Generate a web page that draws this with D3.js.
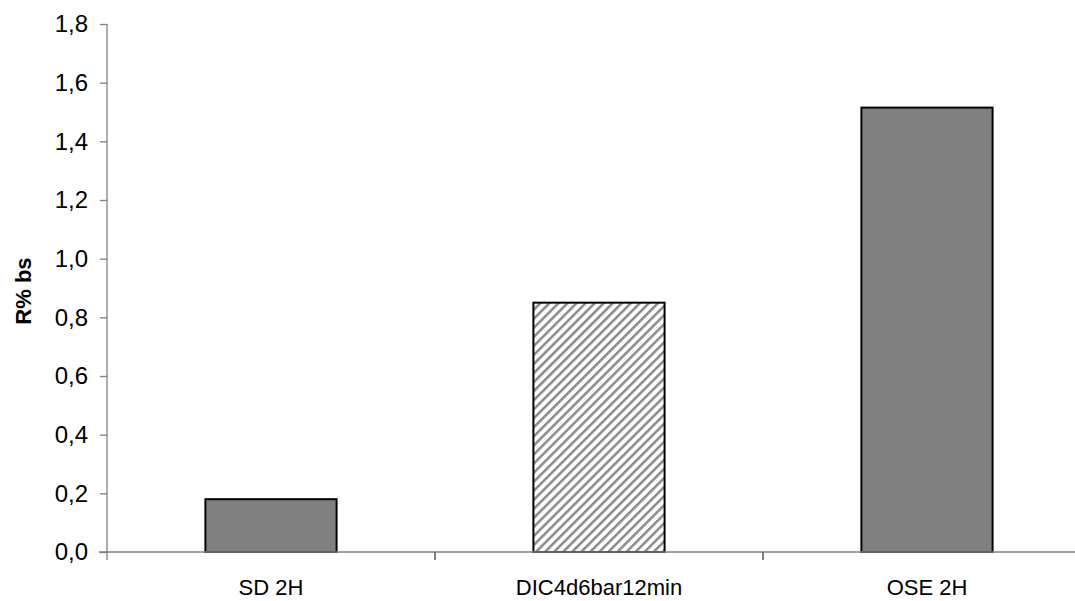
<!DOCTYPE html>
<html>
<head>
<meta charset="utf-8">
<script src="https://cdn.jsdelivr.net/npm/d3@7/dist/d3.min.js"></script>
<style>
  body { margin: 0; background: #fff; }
  svg { font-family: Arial, "Liberation Sans", sans-serif; }
</style>
</head>
<body>
<svg id="chart" width="1075" height="601"></svg>
<script>
const categories = ["SD 2H", "DIC4d6bar12min", "OSE 2H"];
const values = [0.18, 0.85, 1.515];
const hatched = [false, true, false];
const yTicks = [0, 0.2, 0.4, 0.6, 0.8, 1.0, 1.2, 1.4, 1.6, 1.8];
const yLabel = "R% bs";

const svg = d3.select("#chart");
const margin = { top: 24, left: 107, bottom: 49 };
const plotRight = 1091;
const height = +svg.attr("height") - margin.top - margin.bottom;

const x = d3.scaleBand()
    .domain(categories)
    .range([margin.left, plotRight])
    .paddingInner(0.6)
    .paddingOuter(0.3);

const y = d3.scaleLinear()
    .domain([0, 1.8])
    .range([margin.top + height, margin.top]);

const fmt = v => d3.format(".1f")(v).replace(".", ",");

// hatch pattern
const defs = svg.append("defs");
const pat = defs.append("pattern")
    .attr("id", "hatch")
    .attr("patternUnits", "userSpaceOnUse")
    .attr("width", 6.4)
    .attr("height", 6.4)
    .attr("patternTransform", "rotate(45)");
pat.append("rect").attr("width", 6.4).attr("height", 6.4).attr("fill", "#fff");
pat.append("line")
    .attr("x1", 0).attr("y1", 0).attr("x2", 0).attr("y2", 6.4)
    .attr("stroke", "#8a8a8a").attr("stroke-width", 5);

// bars
svg.append("g").selectAll("rect")
    .data(categories)
    .enter().append("rect")
    .attr("x", (d, i) => x(d))
    .attr("y", (d, i) => y(values[i]))
    .attr("width", x.bandwidth())
    .attr("height", (d, i) => y(0) - y(values[i]))
    .attr("fill", (d, i) => hatched[i] ? "url(#hatch)" : "#808080")
    .attr("stroke", "#000")
    .attr("stroke-width", 2);

// y axis
const yAxis = svg.append("g")
    .attr("transform", "translate(" + margin.left + ",0)")
    .call(d3.axisLeft(y).tickValues(yTicks).tickFormat(fmt).tickSize(7).tickSizeOuter(0).tickPadding(12));
yAxis.select(".domain").remove();
yAxis.append("line")
    .attr("x1", 0).attr("x2", 0)
    .attr("y1", y(1.8)).attr("y2", y(0) + 8)
    .attr("stroke", "#808080").attr("stroke-width", 1.3);
yAxis.selectAll(".tick line").attr("stroke", "#808080").attr("stroke-width", 1.3);
yAxis.selectAll(".tick text").attr("fill", "#000").style("font-size", "24px");

// x axis
const xAxis = svg.append("g").attr("transform", "translate(0," + y(0) + ")");
xAxis.append("line")
    .attr("x1", margin.left - 8).attr("x2", plotRight)
    .attr("stroke", "#808080").attr("stroke-width", 1.6);
const step = x.step();
xAxis.selectAll(".sep")
    .data(categories.slice(1))
    .enter().append("line")
    .attr("x1", d => x(d) - step * 0.3)
    .attr("x2", d => x(d) - step * 0.3)
    .attr("y1", 0).attr("y2", 8)
    .attr("stroke", "#606060").attr("stroke-width", 1.6);
xAxis.selectAll(".lbl")
    .data(categories)
    .enter().append("text")
    .attr("x", d => x(d) + x.bandwidth() / 2)
    .attr("y", 43)
    .attr("text-anchor", "middle")
    .style("font-size", "22px")
    .text(d => d);

// y label
svg.append("text")
    .attr("transform", "translate(31," + (margin.top + height / 2 + 3) + ") rotate(-90)")
    .attr("text-anchor", "middle")
    .style("font-size", "22px")
    .style("font-weight", "bold")
    .text(yLabel);
</script>
</body>
</html>
